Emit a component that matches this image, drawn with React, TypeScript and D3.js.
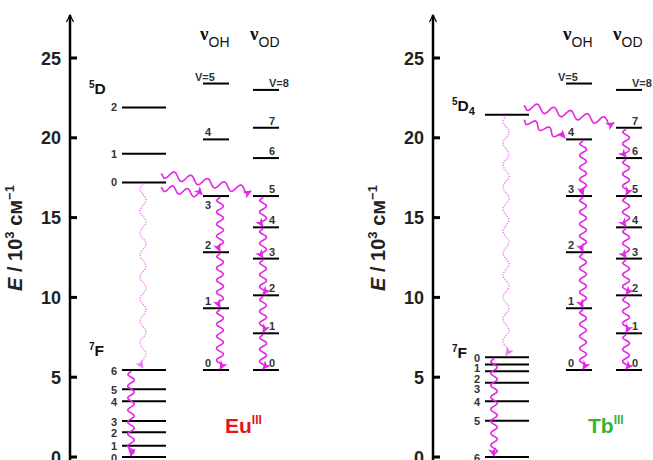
import React from "react";
import * as d3 from "d3";

const W = 653;
const H = 460;

// axis ticks (10^3 cm-1)
const yTicks = [0, 5, 10, 15, 20, 25];

// Eu(III) levels
const euDLabels = ["0", "1", "2"];
const euDEnergy = [17.2, 19.0, 21.9];
const euFLabels = ["0", "1", "2", "3", "4", "5", "6"];
const euFEnergy = [0, 0.7, 1.55, 2.25, 3.5, 4.25, 5.45];

// Tb(III) levels
const tbDLabels = [""];
const tbDEnergy = [21.45];
const tbFLabels = ["0", "1", "2", "3", "4", "5", "6"];
const tbFEnergy = [6.25, 5.8, 5.38, 4.65, 3.5, 2.27, 0];

// vibrational ladders
const ohLabels = ["0", "1", "2", "3", "4", "V=5"];
const ohEnergy = [5.45, 9.32, 12.83, 16.35, 19.9, 23.4];
const odLabels = ["0", "1", "2", "3", "4", "5", "6", "7", "V=8"];
const odEnergy = [5.45, 7.75, 10.13, 12.43, 14.39, 16.35, 18.73, 20.63, 23.0];

const MAGENTA = "#e327e3";
const MAGENTA_LIGHT = "#ea7cea";
const FONT = "'Liberation Sans', Arial, sans-serif";

const y = d3.scaleLinear().domain([0, 25]).range([457, 58]);
const line = d3.line();

// sine wave along a segment, flattened at the end so the arrowhead follows the direction
function wave(x0: number, y0: number, x1: number, y1: number, period: number, amp: number) {
  const dx = x1 - x0;
  const dy = y1 - y0;
  const len = Math.hypot(dx, dy);
  const nx = -dy / len;
  const ny = dx / len;
  const steps = Math.ceil(len / 1.2);
  const pts = d3.range(steps + 1).map((i) => {
    const t = i / steps;
    const d = t * len;
    const taper = Math.min(1, d / 3, (len - d) / 4);
    const s = Math.sin((d / period) * 2 * Math.PI) * amp * taper;
    return [x0 + dx * t + nx * s, y0 + dy * t + ny * s] as [number, number];
  });
  return line(pts) || "";
}

// push labels down so they do not overlap
function labelYs(ys: number[], off: number, gap: number) {
  const order = d3.range(ys.length).sort((a, b) => ys[a] - ys[b]);
  const out: number[] = new Array(ys.length);
  let prev = -Infinity;
  order.forEach((i) => {
    const v = Math.max(ys[i] + off, prev + gap);
    out[i] = v;
    prev = v;
  });
  return out;
}

type PanelProps = {
  ax: number;
  dLab: string[];
  dE: number[];
  fLab: string[];
  fE: number[];
  ohTarget: number;
  odTarget: number;
  dSub: string;
  dTermDy: number;
  fTermDy: number;
  ohBelow: string;
  ion: string;
  ionColor: string;
};

const Panel = ({ ax, dLab, dE, fLab, fE, ohTarget, odTarget, dSub, dTermDy, fTermDy, ohBelow, ion, ionColor }: PanelProps) => {
  const jx0 = ax + 52, jx1 = ax + 96;
  const ohx0 = ax + 133, ohx1 = ax + 159;
  const odx0 = ax + 183, odx1 = ax + 209;
  const dEmit = d3.min(dE) as number;
  const dY = y(dEmit);
  const fTop = d3.max(fE) as number;
  const fTopY = y(fTop);
  const fBotY = y(d3.min(fE) as number);
  const fLabYs = labelYs(fE.map((e) => y(e)), 4.5, 10.5);
  const ohChain = ohEnergy.slice(0, ohTarget + 1);
  const odChain = odEnergy.slice(0, odTarget + 1);

  return (
    <g>
      {/* axis */}
      <line x1={ax} x2={ax} y1={H + 5} y2={15} stroke="#000" strokeWidth={2.5} />
      <path d={`M${ax - 3.5},${22} L${ax},${15} L${ax + 3.5},${22}`} fill="none" stroke="#000" strokeWidth={1.2} />
      {yTicks.map((t) => (
        <g key={t}>
          <line x1={ax} x2={ax + 7} y1={y(t)} y2={y(t)} stroke="#000" strokeWidth={3} />
          <text x={ax - 9} y={y(t) + 6.5} textAnchor="end" fontSize={18} fontWeight="bold" fontFamily={FONT} fill="#222">
            {t}
          </text>
        </g>
      ))}
      <text transform={`translate(${ax - 48},${238}) rotate(-90)`} textAnchor="middle" fontSize={20} fontWeight="bold" fontFamily={FONT} fill="#222">
        <tspan fontStyle="italic">E</tspan>
        <tspan> / 10</tspan>
        <tspan fontSize={13} dy={-8}>3</tspan>
        <tspan dy={8}> см</tspan>
        <tspan fontSize={13} dy={-8}>−1</tspan>
      </text>

      {/* ion levels */}
      {dE.map((e, i) => (
        <g key={"d" + i}>
          <line x1={jx0} x2={jx1} y1={y(e)} y2={y(e)} stroke="#000" strokeWidth={2} />
          <text x={ax + 47} y={y(e) + 4} textAnchor="end" fontSize={11} fontWeight="bold" fontFamily={FONT} fill="#333">
            {dLab[i]}
          </text>
        </g>
      ))}
      {fE.map((e, i) => (
        <g key={"f" + i}>
          <line x1={jx0} x2={jx1} y1={y(e)} y2={y(e)} stroke="#000" strokeWidth={2} />
          <text x={ax + 47} y={fLabYs[i]} textAnchor="end" fontSize={11} fontWeight="bold" fontFamily={FONT} fill="#333">
            {fLab[i]}
          </text>
        </g>
      ))}
      <text x={ax + 19} y={y(d3.max(dE) as number) + dTermDy} fontSize={15.5} fontWeight="bold" fontFamily={FONT} fill="#111">
        <tspan fontSize={10} dy={-6}>5</tspan>
        <tspan dy={6}>D</tspan>
        {dSub && <tspan fontSize={11} dy={4}>{dSub}</tspan>}
      </text>
      <text x={ax + 19} y={fTopY + fTermDy} fontSize={15.5} fontWeight="bold" fontFamily={FONT} fill="#111">
        <tspan fontSize={10} dy={-6}>7</tspan>
        <tspan dy={6}>F</tspan>
      </text>

      {/* headers */}
      {[["OH", ohx0], ["OD", odx0]].map(([s, x]) => (
        <text key={s as string} x={(x as number) - 3} y={40} fontFamily={FONT} fill="#111">
          <tspan fontFamily="'Liberation Serif', serif" fontWeight="bold" fontSize={19}>ν</tspan>
          <tspan fontSize={14} dy={7}>{s}</tspan>
        </text>
      ))}

      {/* OH ladder */}
      {ohEnergy.map((e, i) => {
        const lab = ohLabels[i];
        const below = lab === ohBelow;
        return (
          <g key={"oh" + i}>
            <line x1={ohx0} x2={ohx1} y1={y(e)} y2={y(e)} stroke="#000" strokeWidth={2} />
            <text x={lab.startsWith("V") ? ohx0 - 8 : ohx0 + 2} y={below ? y(e) + 13 : y(e) - 3} fontSize={11} fontWeight="bold" fontFamily={FONT} fill="#333">
              {lab}
            </text>
          </g>
        );
      })}
      {/* OD ladder */}
      {odEnergy.map((e, i) => (
        <g key={"od" + i}>
          <line x1={odx0} x2={odx1} y1={y(e)} y2={y(e)} stroke="#000" strokeWidth={2} />
          <text x={odx0 + 16} y={y(e) - 3} fontSize={11} fontWeight="bold" fontFamily={FONT} fill="#333">
            {odLabels[i]}
          </text>
        </g>
      ))}

      {/* energy transfer to solvent vibrations */}
      <path d={wave(jx1 - 5, dY - 9, odx0 - 2, y(odEnergy[odTarget]) - 5, 17, 4)} fill="none" stroke={MAGENTA} strokeWidth={1.6} markerEnd="url(#ah)" />
      <path d={wave(jx1 - 5, dY + 5, ohx0 - 1, y(ohEnergy[ohTarget]) - 1.5, 15, 3.5)} fill="none" stroke={MAGENTA} strokeWidth={1.6} markerEnd="url(#ah)" />

      {/* radiative emission (dotted) */}
      <path d={wave(ax + 73, dY + 1, ax + 73, fTopY - 2, 22, 3)} fill="none" stroke={MAGENTA_LIGHT} strokeWidth={1.5} strokeDasharray="1.2,1.4" markerEnd="url(#ah2)" />

      {/* relaxation in 7F manifold */}
      <path d={wave(ax + 61, fTopY + 1, ax + 61, fBotY - 1, 12, 3.3)} fill="none" stroke={MAGENTA} strokeWidth={1.6} markerEnd="url(#ah)" />

      {/* vibrational cascades */}
      {ohChain.slice(1).map((e, i) => (
        <path key={"ohc" + i} d={wave(ax + 150, y(e) + 1, ax + 150, y(ohChain[i]) - 1, 12, 3.5)} fill="none" stroke={MAGENTA} strokeWidth={1.6} markerEnd="url(#ah)" />
      ))}
      {odChain.slice(1).map((e, i) => (
        <path key={"odc" + i} d={wave(ax + 193, y(e) + 1, ax + 193, y(odChain[i]) - 1, 12, 3.5)} fill="none" stroke={MAGENTA} strokeWidth={1.6} markerEnd="url(#ah)" />
      ))}

      {/* ion name */}
      <text x={ax + 155} y={433} fontSize={21} fontWeight="bold" fontFamily={FONT} fill={ionColor}>
        {ion}
        <tspan fontSize={12} dy={-9}>III</tspan>
      </text>
    </g>
  );
};

export default function App() {
  return (
    <svg width={W} height={H} style={{ position: "absolute", left: 0, top: 0, background: "#fff" }}>
      <defs>
        <marker id="ah" markerUnits="userSpaceOnUse" markerWidth={10} markerHeight={10} refX={8} refY={4} orient="auto" viewBox="0 0 10 8">
          <path d="M0,0 L9,4 L0,8 L2.5,4 z" fill={MAGENTA} />
        </marker>
        <marker id="ah2" markerUnits="userSpaceOnUse" markerWidth={10} markerHeight={10} refX={8} refY={4} orient="auto" viewBox="0 0 10 8">
          <path d="M0,0 L9,4 L0,8 L2.5,4 z" fill={MAGENTA_LIGHT} />
        </marker>
      </defs>
      <rect width={W} height={H} fill="#fff" />
      <Panel ax={70} dLab={euDLabels} dE={euDEnergy} fLab={euFLabels} fE={euFEnergy} ohTarget={3} odTarget={5} dSub="" dTermDy={-13} fTermDy={-14} ohBelow="3" ion="Eu" ionColor="#e3141c" />
      <Panel ax={433} dLab={tbDLabels} dE={tbDEnergy} fLab={tbFLabels} fE={tbFEnergy} ohTarget={4} odTarget={7} dSub="4" dTermDy={-4} fTermDy={1} ohBelow="" ion="Tb" ionColor="#35b335" />
    </svg>
  );
}
